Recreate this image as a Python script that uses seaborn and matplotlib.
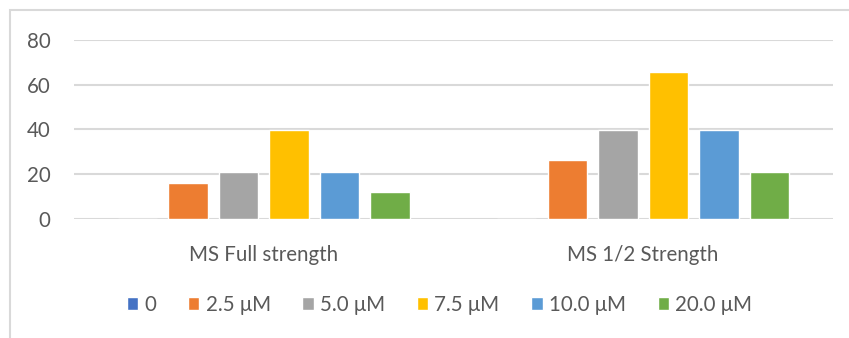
import pandas as pd
import seaborn as sns
import matplotlib.pyplot as plt
from matplotlib.patches import Rectangle

media = ["MS Full strength", "MS 1/2 Strength"]
concentrations = ["0", "2.5 μM", "5.0 μM", "7.5 μM", "10.0 μM", "20.0 μM"]
full_strength = [0, 16.0, 20.8, 39.6, 20.8, 12.0]
half_strength = [0, 26.3, 39.8, 65.5, 39.8, 21.0]
colors = ["#4472C4", "#ED7D31", "#A5A5A5", "#FFC000", "#5B9BD5", "#70AD47"]

rows = []
for medium, vals in zip(media, [full_strength, half_strength]):
    for conc, v in zip(concentrations, vals):
        rows.append({"medium": medium, "conc": conc, "value": v})
df = pd.DataFrame(rows)

sns.set_style("white")
plt.rcParams['font.family'] = ['Lato', 'DejaVu Sans']
text_color = "#595959"
fs = 14.8

fig = plt.figure(figsize=(8.49, 3.38), dpi=100)
ax = fig.add_axes([0.0872, 0.352, 0.8938, 0.5305])

sns.barplot(data=df, x="medium", y="value", hue="conc", hue_order=concentrations,
            palette=colors, width=0.8, gap=0.22, saturation=1, ax=ax, zorder=3)

ax.set_ylim(0, 80)
ax.set_yticks([0, 20, 40, 60, 80])
ax.yaxis.grid(True, color="#D9D9D9", linewidth=1.5, zorder=0)
ax.set_axisbelow(True)
for s in ax.spines.values():
    s.set_visible(False)
ax.tick_params(axis="both", length=0, labelsize=fs, labelcolor=text_color)
ax.tick_params(axis="y", pad=17)
ax.tick_params(axis="x", pad=19)
ax.set_xlabel("")
ax.set_ylabel("")

handles, labels = ax.get_legend_handles_labels()
ax.get_legend().remove()
fig.legend(handles, labels, loc="center", bbox_to_anchor=(0.5177, 0.098), ncol=6,
           frameon=False, fontsize=fs, labelcolor=text_color, handlelength=0.55,
           handleheight=0.55, handletextpad=0.3, columnspacing=1.55)

fig.patches.append(Rectangle((10 / 849, -0.1), 1.2, (1 - 10 / 338) + 0.1,
                             transform=fig.transFigure, fill=False,
                             edgecolor="#D9D9D9", linewidth=1.5))

fig.savefig("out.png", dpi=100)
